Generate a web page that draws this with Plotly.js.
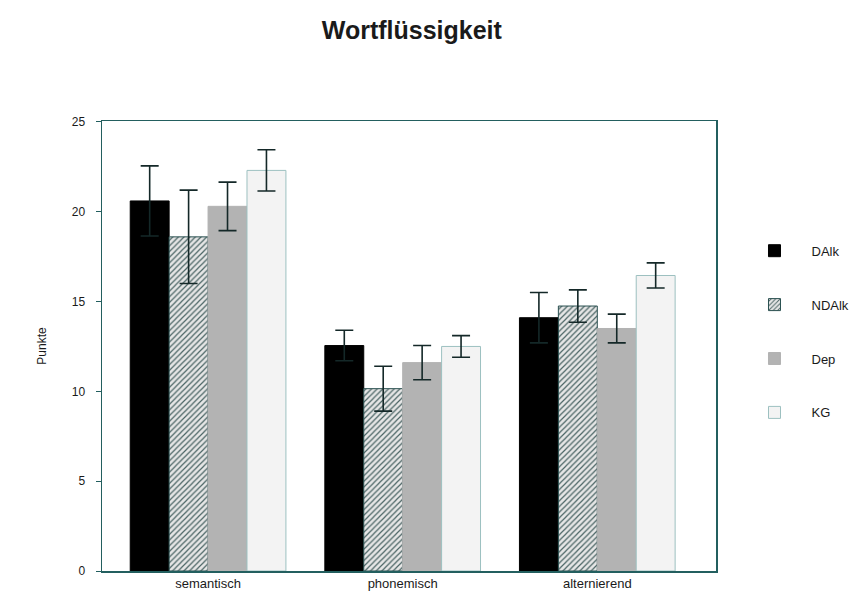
<!DOCTYPE html>
<html><head><meta charset="utf-8">
<script src="https://cdn.plot.ly/plotly-3.0.1.min.js"></script>
<style>html,body{margin:0;padding:0;background:#fff;}#chart{width:867px;height:605px;}</style>
</head><body><div id="chart"></div>
<script>
const categories = ['semantisch', 'phonemisch', 'alternierend'];
const seriesNames = ['DAlk', 'NDAlk', 'Dep', 'KG'];
const DAlk  = [20.6, 12.55, 14.1];
const NDAlk = [18.6, 10.15, 14.75];
const Dep   = [20.3, 11.6, 13.5];
const KG    = [22.3, 12.5, 16.45];
const DAlkErr  = [1.95, 0.85, 1.4];
const NDAlkErr = [2.6, 1.25, 0.9];
const DepErr   = [1.35, 0.95, 0.8];
const KGErr    = [1.15, 0.6, 0.7];
const yTicks = [0, 5, 10, 15, 20, 25];

const frame = '#235f5f';
const errCol = '#142828';
function err(a){return {type:'data', array:a, visible:true, color:errCol, thickness:1.6, width:9};}

const traces = [
  {name:seriesNames[0], y:DAlk, error_y:err(DAlkErr),
   marker:{color:'#000000', line:{color:'#000000', width:1}}},
  {name:seriesNames[1], y:NDAlk, error_y:err(NDAlkErr),
   marker:{color:'#e0e0e0', line:{color:'#2a5050', width:1},
     pattern:{shape:'/', fgcolor:'#4a6464', bgcolor:'#e6e6e6', size:4, solidity:0.3}}},
  {name:seriesNames[2], y:Dep, error_y:err(DepErr),
   marker:{color:'#b3b3b3', line:{color:'#b3b3b3', width:1}}},
  {name:seriesNames[3], y:KG, error_y:err(KGErr),
   marker:{color:'#f3f3f3', line:{color:'#9cc0c0', width:1}}}
].map((t,i)=>Object.assign({type:'bar', x:categories, legendgroup:'g'+i}, t));

const layout = {
  width:867, height:605,
  margin:{l:102, r:151, t:121, b:34},
  paper_bgcolor:'#fff', plot_bgcolor:'#fff',
  font:{family:'Liberation Sans, Arial, sans-serif', color:'#1a1a1a', size:12},
  title:{text:'<b>Wortflüssigkeit</b>', x:0.475, xanchor:'center', y:0.95, yanchor:'middle',
    font:{size:25, family:'Liberation Sans, Arial, sans-serif', color:'#1a1a1a'}},
  barmode:'group', bargap:0.2, bargroupgap:0,
  showlegend:true,
  legend:{x:1.035, xanchor:'left', y:0.745, yanchor:'top', tracegroupgap:34, traceorder:'grouped',
    font:{size:13, color:'#1a1a1a'}, itemwidth:64, bgcolor:'rgba(0,0,0,0)'},
  xaxis:{range:[-0.545, 2.61], showline:true, mirror:true, linecolor:frame, linewidth:1.5,
    ticks:'', showgrid:false, zeroline:false, tickfont:{size:13}, fixedrange:true},
  yaxis:{range:[0, 25.05], tickvals:yTicks, ticktext:yTicks.map(String),
    showline:true, mirror:true, linecolor:frame, linewidth:1.5,
    ticks:'outside', ticklen:5, tickcolor:frame, ticklabelstandoff:8,
    showgrid:false, zeroline:false, tickfont:{size:12},
    title:{text:'Punkte', font:{size:12}, standoff:22}}
};

Plotly.newPlot('chart', traces, layout, {displayModeBar:false, staticPlot:true});
</script></body></html>
